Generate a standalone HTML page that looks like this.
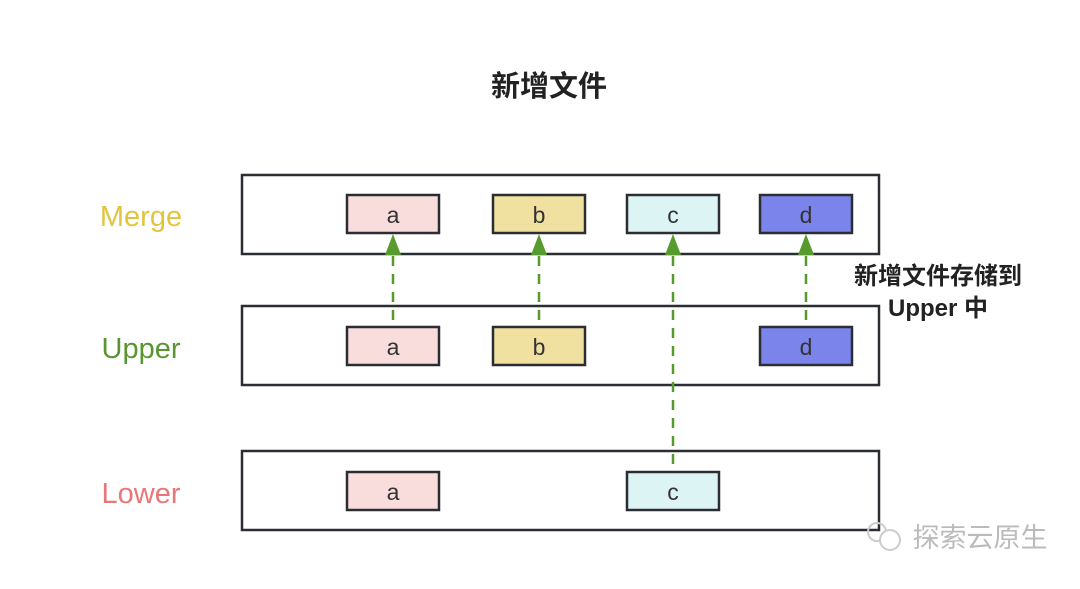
<!DOCTYPE html>
<html><head><meta charset="utf-8"><style>
body{margin:0;background:#fff;width:1080px;height:584px;overflow:hidden;font-family:"Liberation Sans","Noto Sans CJK SC",sans-serif}
</style></head><body>
<svg width="1080" height="584" xmlns="http://www.w3.org/2000/svg" font-family="Liberation Sans, Noto Sans CJK SC, sans-serif">
<text x="549" y="96" font-size="29" font-weight="bold" text-anchor="middle" fill="#222">新增文件</text>
<g fill="none" stroke="#2a2e33" stroke-width="2.5">
<rect x="242" y="175" width="637" height="79"/>
<rect x="242" y="306" width="637" height="79"/>
<rect x="242" y="451" width="637" height="79"/>
</g>
<g font-size="29" text-anchor="middle">
<text x="141" y="226" fill="#e2c53e">Merge</text>
<text x="141" y="358" fill="#5a9630">Upper</text>
<text x="141" y="503" fill="#e87878">Lower</text>
</g>
<g stroke="#2a2e33" stroke-width="2.5">
<rect x="347" y="195" width="92" height="38" fill="#f9dcdc"/>
<rect x="493" y="195" width="92" height="38" fill="#f0e1a0"/>
<rect x="627" y="195" width="92" height="38" fill="#dcf4f4"/>
<rect x="760" y="195" width="92" height="38" fill="#7b84ea"/>
<rect x="347" y="327" width="92" height="38" fill="#f9dcdc"/>
<rect x="493" y="327" width="92" height="38" fill="#f0e1a0"/>
<rect x="760" y="327" width="92" height="38" fill="#7b84ea"/>
<rect x="347" y="472" width="92" height="38" fill="#f9dcdc"/>
<rect x="627" y="472" width="92" height="38" fill="#dcf4f4"/>
</g>
<g font-size="23" text-anchor="middle" fill="#333">
<text x="393" y="223">a</text><text x="539" y="223">b</text><text x="673" y="223">c</text><text x="806" y="223">d</text>
<text x="393" y="355">a</text><text x="539" y="355">b</text><text x="806" y="355">d</text>
<text x="393" y="500">a</text><text x="673" y="500">c</text>
</g>
<g stroke="#579b2f" stroke-width="2.5" stroke-dasharray="10,8">
<line x1="393" y1="256" x2="393" y2="327"/>
<line x1="539" y1="256" x2="539" y2="327"/>
<line x1="673" y1="256" x2="673" y2="472"/>
<line x1="806" y1="256" x2="806" y2="327"/>
</g>
<g fill="#579b2f">
<polygon points="393,234 385,255 401,255"/>
<polygon points="539,234 531,255 547,255"/>
<polygon points="673,234 665,255 681,255"/>
<polygon points="806,234 798,255 814,255"/>
</g>
<g font-size="24" font-weight="bold" fill="#222" text-anchor="middle">
<text x="938" y="284">新增文件存储到</text>
<text x="938" y="316">Upper 中</text>
</g>
<text x="980" y="547" font-size="27" text-anchor="middle" fill="#bbb">探索云原生</text>
<circle cx="877" cy="532" r="9" fill="none" stroke="#ccc" stroke-width="2"/>
<circle cx="890" cy="540" r="10" fill="#fff" stroke="#ccc" stroke-width="2"/>
</svg>
</body></html>
